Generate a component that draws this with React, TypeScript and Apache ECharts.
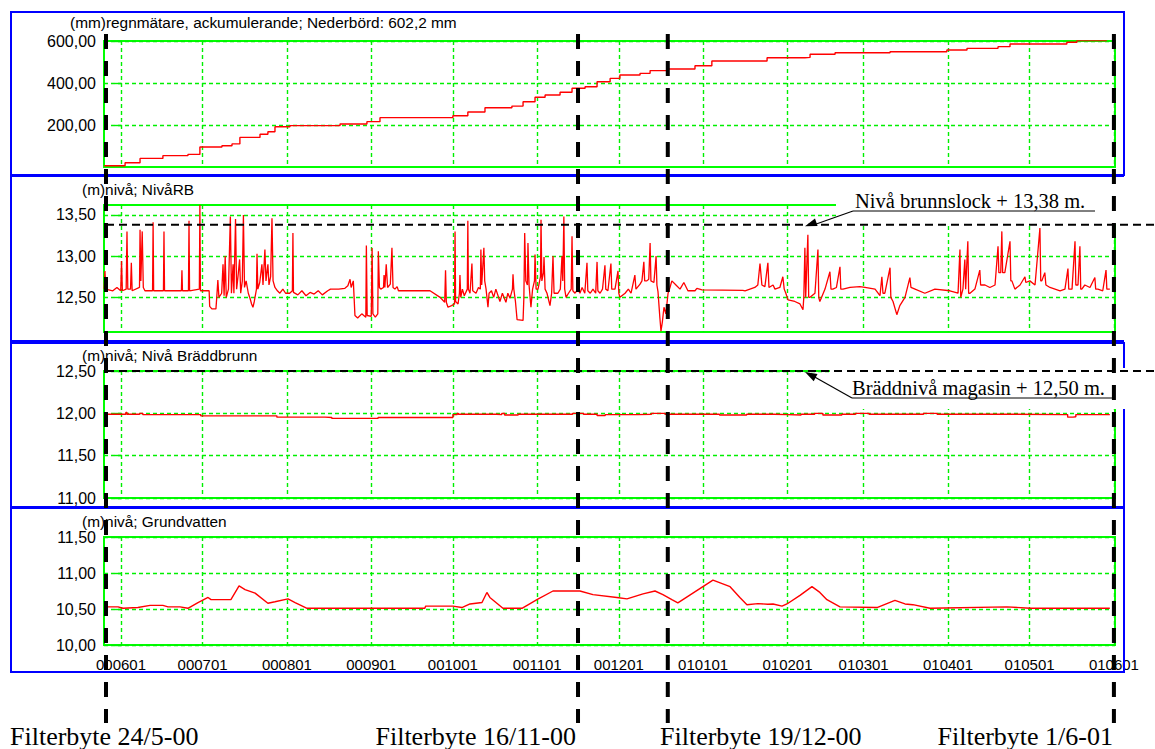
import React, { useEffect, useRef } from 'react';
import * as echarts from 'echarts';

// x values are days counted from 2000-06-01
const monthTickDays = [0, 30, 61, 92, 122, 153, 183, 214, 245, 273, 304, 334, 365];
const monthTickLabels = ['000601', '000701', '000801', '000901', '001001', '001101', '001201', '010101', '010201', '010301', '010401', '010501', '010601'];

const panelTitles = [
  '(mm)regnmätare, ackumulerande; Nederbörd: 602,2 mm',
  '(m)nivå; NivåRB',
  '(m)nivå; Nivå Bräddbrunn',
  '(m)nivå; Grundvatten',
];

const filterDays = [-8, 168, 201, 365];
const filterLabels = ['Filterbyte 24/5-00', 'Filterbyte 16/11-00', 'Filterbyte 19/12-00', 'Filterbyte 1/6-01'];

const brunnslockLevel = 13.38;
const brunnslockText = 'Nivå brunnslock + 13,38 m.';
const braddLevel = 12.5;
const braddText = 'Bräddnivå magasin + 12,50 m.';

const rainDays = [-6.2, 1.5, 7.0, 15.4, 24.6, 29.0, 37.1, 40.8, 43.7, 51.1, 54.0, 56.6, 62.1, 80.5, 90.4, 95.2, 122.0, 127.5, 133.8, 143.7, 147.8, 152.2, 155.9, 161.4, 165.8, 170.6, 175.0, 179.8, 183.4, 190.8, 194.5, 201.1, 211.0, 217.2, 237.5, 251.4, 253.3, 262.5, 282.7, 303.6, 311.0, 322.4, 326.8, 347.7, 351.4, 362.4];
const rainValues = [6, 20, 41, 54, 60, 95, 101, 110, 141, 156, 168, 192, 197, 205, 216, 235, 244, 262, 282, 290, 311, 332, 343, 356, 375, 382, 406, 422, 438, 446, 459, 467, 482, 505, 520, 522, 537, 544, 549, 557, 565, 573, 586, 594, 602, 602];

const nivaRB: [number, number][] = [
  [-6.2, 12.6], [-5.9, 12.82], [-5.6, 12.6], [-3.0, 12.58], [-1.5, 12.62], [-0.1, 12.58], [0.2, 12.94], [0.5, 12.58],
  [1.9, 12.6], [2.2, 13.3], [2.5, 12.6], [3.5, 12.6], [3.8, 12.92], [4.1, 12.58],
  [6.8, 12.62], [7.0, 13.32], [7.3, 12.7], [7.8, 13.3], [8.2, 12.62], [8.8, 12.58],
  [11.6, 12.58], [11.8, 13.41], [12.0, 12.58], [15.6, 12.58], [15.8, 13.3], [16.0, 12.58],
  [22.2, 12.58], [22.4, 12.83], [22.6, 12.58], [24.8, 12.58], [25.0, 13.43], [25.2, 12.58],
  [28.8, 12.6], [29.0, 13.62], [29.2, 12.58], [32.4, 12.58], [32.6, 12.39], [33.4, 12.36], [34.9, 12.36], [35.2, 12.5],
  [35.6, 12.71], [36.0, 12.5], [37.0, 12.55], [37.5, 12.9], [37.9, 12.52], [38.3, 13.0], [38.7, 12.5],
  [39.5, 12.6], [40.2, 13.48], [40.6, 12.55], [41.2, 12.9], [41.5, 12.55], [42.1, 13.45], [42.5, 12.6], [43.0, 12.75],
  [43.6, 12.96], [44.0, 12.55], [44.6, 12.7], [45.0, 13.5], [45.4, 12.62], [46.0, 12.7], [46.8, 12.55], [47.5, 12.48],
  [48.0, 12.42], [48.5, 12.38], [49.0, 12.45], [49.8, 12.6], [50.0, 13.03], [50.3, 12.6], [51.0, 12.68], [51.8, 12.9],
  [52.2, 12.65], [52.9, 13.08], [53.3, 12.7], [54.0, 12.9], [54.4, 12.65], [55.0, 12.75], [55.5, 13.46], [55.9, 12.7],
  [56.6, 12.62], [57.5, 12.58], [58.4, 12.55], [59.5, 12.6], [60.5, 12.55], [62.0, 12.55], [63.0, 12.58], [63.2, 13.28],
  [63.4, 12.56], [65.0, 12.53], [66.5, 12.58], [68.0, 12.52], [69.5, 12.56], [71.0, 12.54], [72.5, 12.58], [74.0, 12.53],
  [76.0, 12.58], [77.0, 12.6], [80.0, 12.6], [82.3, 12.61], [83.4, 12.64], [84.2, 12.72], [84.6, 12.62], [85.4, 12.7],
  [86.0, 12.28], [87.0, 12.25], [88.5, 12.3], [90.0, 12.26], [90.2, 13.13], [90.5, 12.28], [92.0, 12.27], [92.3, 13.1],
  [92.6, 12.3], [93.5, 12.26], [94.4, 12.3], [94.6, 13.06], [95.0, 12.62], [95.5, 12.6], [96.5, 12.62], [96.7, 12.77],
  [97.0, 12.62], [97.5, 12.9], [98.0, 12.62], [99.0, 12.66], [99.6, 13.1], [100.0, 12.62], [100.7, 12.6], [101.5, 12.63],
  [102.0, 12.58], [113.6, 12.58], [117.3, 12.5], [119.0, 12.44], [119.3, 12.83], [119.6, 12.44], [120.2, 12.38],
  [121.5, 12.4], [122.6, 12.42], [122.8, 13.3], [123.0, 12.45], [123.9, 12.42], [124.4, 12.55], [124.6, 12.77],
  [124.9, 12.5], [125.5, 12.6], [126.2, 12.52], [127.3, 12.6], [127.5, 13.43], [127.7, 12.6], [128.3, 12.55], [129.0, 12.91],
  [129.3, 12.58], [130.5, 12.55], [131.4, 12.62], [132.1, 12.6], [132.3, 13.08], [132.6, 12.65], [133.4, 13.1], [133.7, 12.7],
  [134.2, 12.6], [134.9, 12.38], [135.3, 12.55], [136.2, 12.58], [137.0, 12.5], [137.8, 12.6], [138.6, 12.52], [139.3, 12.45],
  [140.2, 12.55], [141.5, 12.44], [142.2, 12.55], [143.0, 12.49], [143.9, 12.6], [144.1, 12.78], [144.4, 12.6], [145.0, 12.45],
  [145.6, 12.23], [147.8, 12.22], [148.1, 12.5], [148.4, 13.28], [148.8, 12.7], [149.4, 12.65], [149.6, 13.16], [150.0, 12.65],
  [150.7, 12.38], [151.3, 12.6], [152.0, 12.7], [152.2, 13.02], [152.6, 12.6], [153.3, 12.6], [154.2, 12.75], [154.4, 13.44],
  [154.7, 12.7], [155.3, 12.8], [155.5, 12.99], [155.9, 12.6], [156.6, 12.55], [157.7, 12.4], [158.3, 12.55], [158.8, 13.0],
  [159.2, 12.55], [160.6, 12.55], [161.5, 12.6], [162.1, 13.0], [162.4, 12.7], [162.8, 13.48], [163.1, 12.6], [163.6, 12.5],
  [164.5, 12.55], [165.5, 12.6], [165.8, 13.24], [166.1, 12.58], [166.9, 12.55], [168.0, 12.6], [168.7, 12.55], [169.5, 12.62],
  [170.5, 12.55], [171.3, 12.92], [171.6, 12.58], [172.5, 12.55], [173.5, 12.6], [174.5, 12.55], [175.0, 12.93], [175.3, 12.58],
  [176.1, 12.55], [177.0, 12.6], [177.9, 12.89], [178.2, 12.6], [179.0, 12.58], [180.1, 12.91], [180.4, 12.6], [181.6, 12.6],
  [182.7, 12.82], [183.0, 12.55], [183.4, 12.5], [185.3, 12.55], [186.5, 12.6], [187.5, 12.55], [188.9, 12.77], [189.3, 12.6],
  [190.8, 12.66], [191.5, 12.7], [192.2, 12.93], [192.5, 12.7], [193.3, 12.7], [194.0, 12.72], [194.5, 13.16], [194.8, 12.7],
  [195.9, 12.68], [196.7, 13.0], [197.0, 12.65], [197.4, 12.57], [198.1, 12.25], [198.5, 12.09], [199.0, 12.2], [199.6, 12.38],
  [200.3, 12.3], [201.1, 12.55], [201.8, 12.62], [202.5, 12.7], [204.0, 12.65], [205.5, 12.6], [206.9, 12.68], [208.4, 12.58],
  [211.0, 12.58], [211.7, 12.61], [213.6, 12.59], [228.6, 12.585], [229.4, 12.58], [231.2, 12.6], [233.0, 12.62], [234.1, 12.65],
  [234.9, 12.91], [235.6, 12.65], [236.7, 12.63], [237.8, 12.92], [238.2, 12.62], [239.7, 12.65], [240.4, 12.6], [242.2, 12.62],
  [243.3, 12.75], [243.8, 12.6], [244.4, 12.55], [245.2, 12.47], [247.7, 12.45], [249.6, 12.42], [250.7, 12.35], [251.0, 12.5],
  [251.4, 13.1], [251.7, 12.5], [252.5, 13.26], [252.8, 12.5], [253.3, 12.5], [255.1, 12.55], [256.2, 13.08], [256.5, 12.5],
  [256.9, 12.45], [258.8, 12.6], [260.6, 12.81], [261.0, 12.6], [261.7, 12.6], [263.0, 12.62], [264.3, 12.87], [264.6, 12.6],
  [265.4, 12.6], [268.0, 12.62], [271.6, 12.63], [273.5, 12.62], [277.2, 12.6], [279.0, 12.52], [279.7, 12.75], [280.1, 12.55],
  [280.8, 12.55], [282.7, 12.86], [283.0, 12.5], [283.8, 12.45], [285.2, 12.29], [286.3, 12.4], [288.2, 12.5], [290.0, 12.74],
  [290.4, 12.62], [291.9, 12.6], [295.5, 12.55], [299.2, 12.6], [304.7, 12.58], [307.7, 12.55], [308.4, 13.08], [308.7, 12.5],
  [309.5, 12.6], [310.2, 12.96], [310.5, 12.6], [311.3, 13.18], [311.6, 12.55], [312.1, 12.55], [313.9, 12.6], [315.7, 12.83],
  [316.0, 12.65], [317.6, 12.65], [319.4, 12.62], [321.3, 12.65], [322.4, 13.12], [322.7, 12.8], [323.4, 12.8], [323.8, 13.3],
  [324.1, 12.8], [324.9, 12.8], [326.8, 13.18], [327.1, 12.7], [327.5, 12.7], [328.6, 12.6], [330.5, 12.65], [332.3, 12.75],
  [332.6, 12.68], [334.1, 12.7], [336.0, 12.65], [337.8, 13.34], [338.1, 12.7], [338.5, 12.7], [339.6, 12.8], [340.0, 12.65],
  [341.5, 12.62], [345.2, 12.58], [347.0, 12.6], [348.1, 12.85], [348.4, 12.6], [349.6, 12.6], [350.7, 13.18], [351.0, 12.65],
  [351.8, 12.65], [352.5, 13.12], [352.8, 12.6], [353.2, 12.6], [354.3, 12.65], [356.2, 12.62], [358.0, 12.74], [358.3, 12.6],
  [359.1, 12.6], [360.9, 12.58], [362.1, 12.83], [362.4, 12.6], [363.5, 12.6],
];

const nivaBradd: [number, number][] = [
  [-6.2, 11.99], [1.5, 11.99], [1.8, 12.01], [2.2, 11.99], [6.8, 11.99], [7.0, 12.0], [8.0, 11.985], [28.8, 11.985],
  [29.3, 11.97], [56.8, 11.97], [57.3, 11.955], [75.0, 11.95], [77.5, 11.94], [94.0, 11.94], [94.5, 11.95], [121.6, 11.95],
  [122.0, 11.985], [123.3, 11.985], [123.6, 12.0], [124.0, 11.99], [138.0, 11.985], [140.0, 12.0], [141.0, 11.98],
  [145.0, 11.98], [146.0, 11.99], [165.0, 11.99], [166.0, 12.0], [170.0, 11.99], [175.0, 11.975], [178.0, 11.985],
  [190.0, 11.99], [195.0, 12.0], [200.0, 11.99], [215.0, 11.99], [220.0, 11.98], [230.0, 11.99], [240.0, 11.985],
  [245.0, 11.98], [250.0, 11.99], [255.0, 12.0], [258.0, 11.98], [265.0, 11.99], [270.0, 12.0], [275.0, 11.99],
  [290.0, 11.99], [295.0, 12.0], [300.0, 11.99], [320.0, 11.99], [325.0, 11.985], [347.0, 11.985], [348.0, 11.955],
  [350.0, 11.96], [351.0, 11.985], [363.5, 11.985],
];

const grundvatten: [number, number][] = [
  [-6.2, 10.53], [-1.1, 10.53], [0.7, 10.51], [6.2, 10.52], [10.7, 10.55], [15.4, 10.55], [17.3, 10.53], [21.7, 10.53],
  [24.6, 10.51], [28.3, 10.59], [32.0, 10.66], [33.1, 10.63], [40.4, 10.63], [43.4, 10.82], [45.6, 10.77], [49.3, 10.72],
  [54.0, 10.58], [56.6, 10.6], [61.4, 10.64], [64.0, 10.59], [68.4, 10.51], [111.7, 10.51], [112.0, 10.54], [122.0, 10.54],
  [125.3, 10.52], [128.3, 10.57], [132.7, 10.59], [134.5, 10.73], [135.6, 10.66], [140.4, 10.51], [147.4, 10.51],
  [152.9, 10.63], [158.8, 10.75], [168.7, 10.75], [173.5, 10.7], [182.3, 10.66], [186.0, 10.64], [191.9, 10.71],
  [196.3, 10.75], [199.2, 10.7], [202.5, 10.63], [204.7, 10.585], [217.6, 10.9], [223.9, 10.81], [227.5, 10.66],
  [230.1, 10.56], [234.1, 10.575], [237.8, 10.565], [239.7, 10.57], [243.0, 10.54], [244.8, 10.57], [249.6, 10.69],
  [254.0, 10.81], [256.9, 10.73], [259.5, 10.63], [264.3, 10.53], [277.9, 10.52], [284.5, 10.62], [288.2, 10.57],
  [291.1, 10.56], [297.4, 10.51], [325.7, 10.53], [334.1, 10.51], [363.5, 10.51],
];

const X_MIN = -6.25;
const X_MAX = 365.4;
const GREEN = '#00ff00';
const GRID_GREEN = '#00f000';
const BLUE = '#0000ff';
const SANS = '"Liberation Sans", Arial, sans-serif';
const SERIF = '"Liberation Serif", "Times New Roman", serif';

const fmtComma = (v: number) => v.toFixed(2).replace('.', ',');

export default function App() {
  const ref = useRef<HTMLDivElement>(null);

  useEffect(() => {
    if (!ref.current) return;
    const chart = echarts.init(ref.current, undefined, { renderer: 'svg' });

    const gridDefs = [
      { top: 41, height: 126 },
      { top: 205, height: 127 },
      { top: 371, height: 127 },
      { top: 537, height: 108 },
    ];
    const grid = gridDefs.map((g) => ({
      ...g,
      left: 104,
      right: 40,
      show: true,
      borderColor: GREEN,
      borderWidth: 2,
      backgroundColor: 'transparent',
    }));

    const splitLine = { show: true, lineStyle: { color: GRID_GREEN, type: [4, 3], width: 1.4, opacity: 1 } };

    const xAxis = gridDefs.map((_, i) => ({
      type: 'value',
      gridIndex: i,
      min: X_MIN,
      max: X_MAX,
      axisLine: { show: false },
      axisTick: { show: false, customValues: monthTickDays },
      axisLabel: {
        show: i === 3,
        customValues: monthTickDays,
        formatter: (v: number) => monthTickLabels[monthTickDays.indexOf(Math.round(v))] ?? '',
        color: '#000',
        fontSize: 15,
        fontFamily: SANS,
        margin: 12,
      },
      splitLine,
    }));

    const yCommon = (i: number) => ({
      type: 'value',
      gridIndex: i,
      axisLine: { show: false },
      splitLine,
    });
    const yLabel = (extra: any = {}) => ({
      color: '#000',
      fontSize: 16,
      fontFamily: SANS,
      margin: 8,
      formatter: (v: number) => fmtComma(v),
      ...extra,
    });
    const yTick = (extra: any = {}) => ({ show: true, length: 6, lineStyle: { color: GRID_GREEN, width: 1.4 }, ...extra });

    const yAxis = [
      { ...yCommon(0), min: 0, max: 600, axisTick: yTick({ customValues: [200, 400, 600] }), axisLabel: yLabel({ customValues: [200, 400, 600] }) },
      { ...yCommon(1), min: 12.08, max: 13.62, axisTick: yTick({ customValues: [12.5, 13, 13.5] }), axisLabel: yLabel({ customValues: [12.5, 13, 13.5] }) },
      { ...yCommon(2), min: 11, max: 12.5, interval: 0.5, axisTick: yTick(), axisLabel: yLabel() },
      { ...yCommon(3), min: 10, max: 11.5, interval: 0.5, axisTick: yTick(), axisLabel: yLabel() },
    ];

    const lineStyle = { color: '#ff0000', width: 1.4 };
    const series = [
      { type: 'line', xAxisIndex: 0, yAxisIndex: 0, step: 'end', symbol: 'none', lineStyle, data: rainDays.map((d, i) => [d, rainValues[i]]) },
      { type: 'line', xAxisIndex: 1, yAxisIndex: 1, symbol: 'none', lineStyle: { color: '#ff0000', width: 1.3 }, data: nivaRB },
      { type: 'line', xAxisIndex: 2, yAxisIndex: 2, step: 'end', symbol: 'none', lineStyle, data: nivaBradd },
      { type: 'line', xAxisIndex: 3, yAxisIndex: 3, symbol: 'none', lineStyle, data: grundvatten },
    ];

    chart.setOption({ animation: false, grid, xAxis, yAxis, series });

    const yRB = chart.convertToPixel({ yAxisIndex: 1 } as any, brunnslockLevel) as number;
    const yBr = chart.convertToPixel({ yAxisIndex: 2 } as any, braddLevel) as number;
    const gridLeft = 104;

    const graphics: any[] = [];
    // panel boxes
    graphics.push({ type: 'rect', z: 40, shape: { x: 11, y: 12, width: 1113, height: 163 }, style: { fill: 'none', stroke: BLUE, lineWidth: 2 } });
    graphics.push({ type: 'polyline', z: 40, shape: { points: [[1124, 176], [11, 176], [11, 341], [1124, 341]] }, style: { fill: 'none', stroke: BLUE, lineWidth: 2 } });
    graphics.push({ type: 'rect', z: 40, shape: { x: 11, y: 343, width: 1113, height: 164 }, style: { fill: 'none', stroke: BLUE, lineWidth: 2 } });
    graphics.push({ type: 'rect', z: 40, shape: { x: 11, y: 508, width: 1113, height: 164 }, style: { fill: 'none', stroke: BLUE, lineWidth: 2 } });

    // panel titles
    const titlePos = [[70, 22], [82, 189], [82, 355], [82, 521]];
    panelTitles.forEach((t, i) => {
      graphics.push({ type: 'text', z: 45, style: { text: t, x: titlePos[i][0], y: titlePos[i][1], fill: '#000', fontSize: 15.4, fontFamily: SANS, verticalAlign: 'middle', align: 'left' } });
    });

    // annotation white boxes
    graphics.push({ type: 'rect', z: 50, shape: { x: 836, y: 178, width: 319, height: 46 }, style: { fill: '#fff' } });
    graphics.push({ type: 'rect', z: 50, shape: { x: 830, y: 368, width: 305, height: 41 }, style: { fill: '#fff' } });

    // level lines
    graphics.push({ type: 'line', z: 60, shape: { x1: gridLeft + 2, y1: yRB, x2: 1155, y2: yRB }, style: { stroke: '#000', lineWidth: 2, lineDash: [8, 5] } });
    graphics.push({ type: 'line', z: 60, shape: { x1: gridLeft + 2, y1: yBr, x2: 1155, y2: yBr }, style: { stroke: '#000', lineWidth: 2, lineDash: [8, 5] } });

    // annotation texts + underline + arrows
    graphics.push({ type: 'text', z: 70, style: { text: brunnslockText, x: 855, y: 201, fill: '#000', fontSize: 20.5, fontFamily: SERIF, verticalAlign: 'middle', align: 'left' } });
    graphics.push({ type: 'line', z: 70, shape: { x1: 853, y1: 211, x2: 1095, y2: 211 }, style: { stroke: '#000', lineWidth: 1 } });
    graphics.push({ type: 'line', z: 70, shape: { x1: 853, y1: 211, x2: 812, y2: 225.5 }, style: { stroke: '#000', lineWidth: 1.2 } });
    graphics.push({ type: 'polygon', z: 70, shape: { points: [[805, yRB + 1.5], [817.6, yRB + 1.3], [815, yRB - 6.3]] }, style: { fill: '#000' } });

    graphics.push({ type: 'text', z: 70, style: { text: braddText, x: 852, y: 388, fill: '#000', fontSize: 20.5, fontFamily: SERIF, verticalAlign: 'middle', align: 'left' } });
    graphics.push({ type: 'line', z: 70, shape: { x1: 852, y1: 398, x2: 1112, y2: 398 }, style: { stroke: '#000', lineWidth: 1 } });
    graphics.push({ type: 'line', z: 70, shape: { x1: 852, y1: 398, x2: 812, y2: yBr + 4.5 }, style: { stroke: '#000', lineWidth: 1.2 } });
    graphics.push({ type: 'polygon', z: 70, shape: { points: [[805, yBr + 1], [813.7, yBr + 10.2], [817.5, yBr + 3.1]] }, style: { fill: '#000' } });

    // filter change lines
    filterDays.forEach((d) => {
      let x = chart.convertToPixel({ xAxisIndex: 3 } as any, d) as number;
      x = Math.max(x, gridLeft + 2);
      graphics.push({ type: 'line', z: 80, shape: { x1: x, y1: 34, x2: x, y2: 723 }, style: { stroke: '#000', lineWidth: 4, lineDash: [15, 12] } });
    });

    const labelX: [number, string][] = [[10, 'left'], [576, 'right'], [660, 'left'], [1113, 'right']];
    filterLabels.forEach((t, i) => {
      graphics.push({ type: 'text', z: 80, style: { text: t, x: labelX[i][0], y: 736, fill: '#000', fontSize: 26, fontFamily: SERIF, verticalAlign: 'middle', align: labelX[i][1] } });
    });

    chart.setOption({ graphic: graphics });

    return () => chart.dispose();
  }, []);

  return <div ref={ref} style={{ width: 1155, height: 749, position: 'absolute', left: 0, top: 0, background: '#fff' }} />;
}
